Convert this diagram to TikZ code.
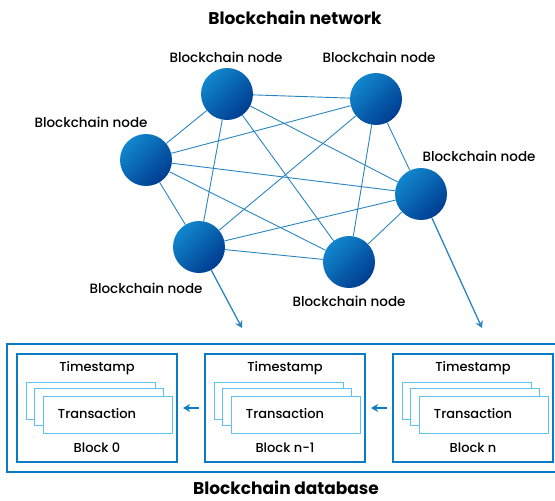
\documentclass[tikz,border=0pt]{standalone}
\usepackage{fontspec}
\setmainfont{Poppins}[UprightFont={* Medium}, BoldFont={* Bold}]
\usetikzlibrary{arrows.meta}

\definecolor{netblue}{HTML}{2A85BF}
\definecolor{ballhi}{HTML}{1187CD}
\definecolor{balllo}{HTML}{003C90}
\definecolor{boxblue}{HTML}{0A7CC6}
\definecolor{cardblue}{HTML}{5BC3EE}

\begin{document}
\begin{tikzpicture}[x=1pt, y=-1pt,
  bnode/.style={circle, minimum size=52pt, inner sep=0pt,
    top color=ballhi, bottom color=balllo, shading angle=45},
  nlabel/.style={font=\fontsize{13.5}{16}\selectfont, inner sep=0pt},
  title/.style={font=\bfseries\fontsize{17}{20}\selectfont, inner sep=0pt},
  link/.style={draw=netblue, line width=0.9pt},
  feed/.style={draw=netblue, line width=1.3pt, -{Stealth[length=7pt,width=8pt]}},
  dbbox/.style={draw=boxblue, line width=1.3pt, minimum width=551pt, minimum height=128pt},
  block/.style={draw=boxblue, line width=2.2pt, minimum width=160pt, minimum height=108pt},
  card/.style={draw=cardblue, fill=white, line width=1pt, minimum width=129pt, minimum height=37pt},
  txt/.style={font=\fontsize{13}{15}\selectfont, inner sep=0pt},
  chain/.style={draw=boxblue, line width=1.3pt, -{Stealth[length=7pt,width=8pt]},
    shorten <=5pt, shorten >=5pt}]

  \useasboundingbox (0,0) rectangle (555,501);

  % Titles
  \node[title] (nettitle) at (295,18) {Blockchain network};
  \node[title] (dbtitle) at (286,488) {Blockchain database};

  % Network nodes
  \node[bnode] (nA) at (227,94) {};
  \node[bnode] (nB) at (376,99) {};
  \node[bnode] (nC) at (146,160) {};
  \node[bnode] (nD) at (421,194) {};
  \node[bnode] (nE) at (199,247) {};
  \node[bnode] (nF) at (349,262) {};

  % Node labels
  \node[nlabel] (lA) at (226,57) {Blockchain node};
  \node[nlabel] (lB) at (379,57) {Blockchain node};
  \node[nlabel] (lC) at (91,122) {Blockchain node};
  \node[nlabel] (lD) at (479,156) {Blockchain node};
  \node[nlabel] (lE) at (146,288) {Blockchain node};
  \node[nlabel] (lF) at (349,301) {Blockchain node};

  % Links, every node to every other
  \foreach \a/\b in {nA/nB, nA/nC, nA/nD, nA/nE, nA/nF,
                     nB/nC, nB/nD, nB/nE, nB/nF,
                     nC/nD, nC/nE, nC/nF,
                     nD/nE, nD/nF, nE/nF}
    \draw[link] (\a) -- (\b);

  % Feeds into the database
  \coordinate (tE) at (242,328);
  \coordinate (tD) at (482,328);
  \draw[feed] (nE) -- (tE);
  \draw[feed] (nD) -- (tD);

  % Database
  \node[dbbox] (db) at (282.5,408) {};

  \foreach \i/\x/\lbl in {0/97/Block 0, 1/285/Block n-1, 2/473/Block n}
  {
    \node[block] (blk\i) at (\x,408) {};
    \node[txt] (ts\i) at (\x,368) {Timestamp};
    \node[card] (cA\i) at (\x-6.5,400.5) {};
    \node[card] (cB\i) at (\x+2,407) {};
    \node[card] (cC\i) at (\x+10.5,414.5) {};
    \node[txt] (tx\i) at (\x,414) {Transaction};
    \node[txt] (bl\i) at (\x,448) {\lbl};
  }

  % Chain links
  \draw[chain] (blk1) -- (blk0);
  \draw[chain] (blk2) -- (blk1);
\end{tikzpicture}
\end{document}
